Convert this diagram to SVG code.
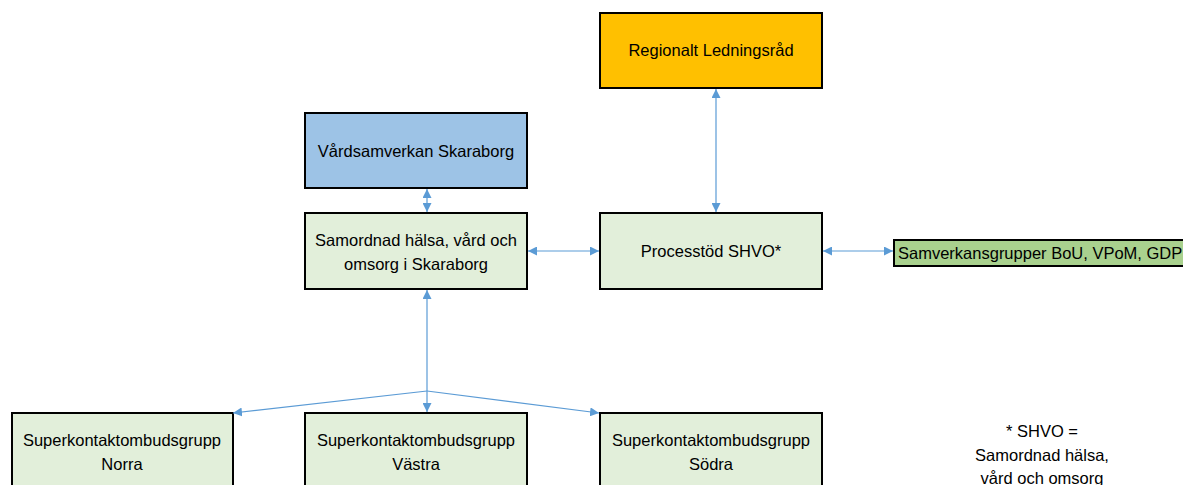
<svg xmlns="http://www.w3.org/2000/svg" width="1183" height="485" viewBox="0 0 1183 485">
<style>
.box{stroke:#000;stroke-width:2}
.g{fill:#E2EFDA}
.t{font-family:"Liberation Sans",Arial,sans-serif;font-size:16.5px;fill:#000;text-anchor:middle}
.c{stroke:#5B9BD5;stroke-width:1.2;fill:none}
</style>
<defs>
<marker id="a" viewBox="0 0 10 10" refX="10" refY="5" markerWidth="9" markerHeight="9" markerUnits="userSpaceOnUse" orient="auto-start-reverse">
<path d="M0,0 L10,5 L0,10 z" fill="#5B9BD5"/>
</marker>
</defs>
<rect width="1183" height="485" fill="#fff"/>
<g id="regionalt">
<rect class="box" x="600" y="13" width="222" height="75" fill="#FFC000"/>
<text class="t" x="711" y="56">Regionalt Ledningsråd</text>
</g>
<g id="vardsamverkan">
<rect class="box" x="305" y="113" width="222" height="75" fill="#9DC3E6"/>
<text class="t" x="416" y="157">Vårdsamverkan Skaraborg</text>
</g>
<g id="samordnad">
<rect class="box g" x="305" y="213" width="222" height="76"/>
<text class="t" x="416" y="246">Samordnad hälsa, vård och</text>
<text class="t" x="416" y="270">omsorg i Skaraborg</text>
</g>
<g id="processtod">
<rect class="box g" x="600" y="213" width="222" height="76"/>
<text class="t" x="711" y="257">Processtöd SHVO*</text>
</g>
<g id="samverkansgrupper">
<rect class="box" x="894" y="240" width="300" height="26" fill="#A9D18E"/>
<text class="t" x="898" y="259" style="text-anchor:start">Samverkansgrupper BoU, VPoM, GDP</text>
</g>
<g id="norra">
<rect class="box g" x="12" y="413" width="221" height="80"/>
<text class="t" x="122" y="446">Superkontaktombudsgrupp</text>
<text class="t" x="122" y="470">Norra</text>
</g>
<g id="vastra">
<rect class="box g" x="305" y="413" width="222" height="80"/>
<text class="t" x="416" y="446">Superkontaktombudsgrupp</text>
<text class="t" x="416" y="470">Västra</text>
</g>
<g id="sodra">
<rect class="box g" x="600" y="413" width="222" height="80"/>
<text class="t" x="711" y="446">Superkontaktombudsgrupp</text>
<text class="t" x="711" y="470">Södra</text>
</g>
<g id="footnote">
<text class="t" x="1042" y="437">* SHVO =</text>
<text class="t" x="1042" y="461">Samordnad hälsa,</text>
<text class="t" x="1042" y="484">vård och omsorg</text>
</g>
<g id="connectors">
<line class="c" x1="716" y1="89" x2="716" y2="212" marker-start="url(#a)" marker-end="url(#a)"/>
<line class="c" x1="427" y1="189" x2="427" y2="212" marker-start="url(#a)" marker-end="url(#a)"/>
<line class="c" x1="528" y1="251" x2="599" y2="251" marker-start="url(#a)" marker-end="url(#a)"/>
<line class="c" x1="823" y1="251" x2="893" y2="251" marker-start="url(#a)" marker-end="url(#a)"/>
<polyline class="c" points="427,290 427,391" marker-start="url(#a)"/>
<line class="c" x1="427" y1="391" x2="233" y2="413" marker-end="url(#a)"/>
<line class="c" x1="427" y1="391" x2="427" y2="412" marker-end="url(#a)"/>
<line class="c" x1="427" y1="391" x2="599" y2="413" marker-end="url(#a)"/>
</g>
</svg>
